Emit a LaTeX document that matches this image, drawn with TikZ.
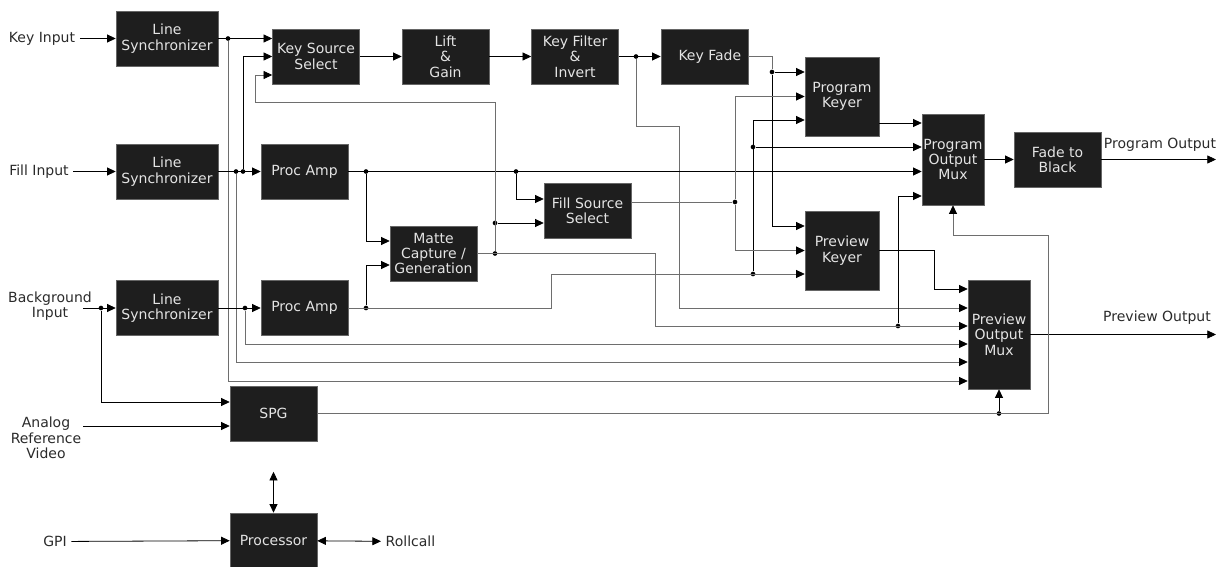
\documentclass[tikz,border=0pt]{standalone}
\usepackage{fontspec}
\setmainfont{DejaVu Sans}
\usepackage{xcolor}
\usepackage{tikz}
\usetikzlibrary{arrows.meta, positioning}
\definecolor{blockfill}{HTML}{1E1E1E}
\definecolor{blocktext}{HTML}{E4E4E4}
\definecolor{bus}{HTML}{6E6E6E}
\definecolor{labeltext}{HTML}{2A2A2A}

\begin{document}
\begin{tikzpicture}[
  x=0.75pt, y=-0.75pt,
  block/.style={draw=black!60, fill=blockfill, text=blocktext, inner sep=1pt,
                minimum width=65.25pt, minimum height=41.25pt,
                font=\fontsize{10.5}{11.5}\selectfont, align=center},
  sync/.style={block, minimum width=76.5pt},
  keyer/.style={block, minimum width=55.5pt, minimum height=59.25pt},
  mux/.style={block, minimum width=46.5pt},
  iolabel/.style={text=labeltext, font=\fontsize{10.5}{11.5}\selectfont, align=center},
  dot/.style={circle, fill=black, inner sep=0pt, minimum size=3.5pt},
  arrow/.style={-{Triangle[length=6.5pt, width=6pt]}, line width=0.6pt},
  busarrow/.style={arrow, draw=bus, -{Triangle[length=6.5pt, width=6pt, color=black]}},
  bus/.style={draw=bus, line width=0.6pt},
  twoway/.style={{Triangle[length=6.5pt, width=6pt]}-{Triangle[length=6.5pt, width=6pt]}, line width=0.6pt}
]
  \useasboundingbox (0,0) rectangle (1221,567);

  \node[sync] (ls1) at (167,38.5) {Line\\Synchronizer};
  \node[sync] (ls2) at (167,171.5) {Line\\Synchronizer};
  \node[sync] (ls3) at (167,308) {Line\\Synchronizer};
  \node[block] (kss) at (316,56.5) {Key Source\\Select};
  \node[block] (lg) at (445.5,56.5) {Lift\\\&\\Gain};
  \node[block] (kfi) at (575,56.5) {Key Filter\\\&\\Invert};
  \node[block] (kf) at (704.5,56.5) {\hspace{8pt}Key Fade};
  \node[block] (pa1) at (304.5,171.5) {Proc Amp};
  \node[block] (pa2) at (304.5,308) {Proc Amp};
  \node[block] (fss) at (587.5,211) {Fill Source\\Select};
  \node[block] (mcg) at (433.5,253.5) {Matte\\Capture /\\Generation};
  \node[keyer] (pk) at (842,96.5) {Program\\Keyer};
  \node[keyer] (pvk) at (842,250.5) {Preview\\Keyer};
  \node[mux, minimum height=68.25pt] (pom) at (953,159.5) {Program\\Output\\Mux};
  \node[mux, minimum height=81.75pt] (pvm) at (999,334.5) {Preview\\Output\\Mux};
  \node[block] (ftb) at (1057.5,159.5) {Fade to\\Black};
  \node[block] (spg) at (273.5,413.5) {SPG};
  \node[block] (proc) at (273.5,540.5) {Processor};

  \node[iolabel] (kin) at (42,38.5) {Key Input};
  \node[iolabel] (fin) at (39,171.5) {Fill Input};
  \node[iolabel] (bgin) at (50,306) {Background\\Input};
  \node[iolabel] (refin) at (46,438) {Analog\\Reference\\Video};
  \node[iolabel] (gpi) at (55,541.5) {GPI};
  \node[iolabel, anchor=west] (roll) at (381,541.5) {Rollcall};
  \node[iolabel] (pgmlbl) at (1160,145) {Program Output};
  \node[iolabel] (pvwlbl) at (1157,318) {Preview Output};
  \coordinate (bg_in) at (83,308);
  \coordinate (ref_in) at (83,426);
  \coordinate (pgm_out) at (1216,159.5);
  \coordinate (pvw_out) at (1216,334.5);

  \node[dot] (sbi) at (101,308) {};
  \node[dot] (sk) at (228,38.5) {};
  \node[dot] (sf1) at (236,171.5) {};
  \node[dot] (sf2) at (243,171.5) {};
  \node[dot] (sb) at (245,308) {};
  \node[dot] (pf1) at (366,171.5) {};
  \node[dot] (pf2) at (516,171.5) {};
  \node[dot] (pb) at (366,308) {};
  \node[dot] (mo) at (495,253.5) {};
  \node[dot] (mf) at (495,223) {};
  \node[dot] (kfo) at (636,56.5) {};
  \node[dot] (kfd) at (772,72) {};
  \node[dot] (fso) at (735,202) {};
  \node[dot] (pbk) at (753,274) {};
  \node[dot] (pbm) at (753,147) {};
  \node[dot] (mom) at (898,326) {};
  \node[dot] (spgv) at (999,413.5) {};

  \draw[arrow] (kin) -- (ls1);
  \draw[arrow] (fin) -- (ls2);
  \draw[arrow] (bg_in) -- (ls3);
  \draw[arrow] (sbi) |- (spg.west |- 0,402);
  \draw[arrow] (ref_in) -- (spg.west |- ref_in);
  \draw[arrow] (gpi) -- (proc);
  \draw[twoway] (proc) -- (roll);
  \draw[twoway] (proc.north) -- ++(0,-41);

  \draw[arrow] (ls1) -- (kss.west |- ls1);
  \draw[busarrow] (sk) |- (pvm.west |- 0,381);
  \draw[arrow] (kss) -- (lg);
  \draw[arrow] (lg) -- (kfi);
  \draw[arrow] (kfi) -- (kf);
  \draw[busarrow] (kfo) |- (679,126) |- (pvm.west |- 0,308);
  \draw[bus] (kf) -| (kfd);
  \draw[arrow] (kfd) -- (pk.west |- kfd);
  \draw[arrow] (kfd) |- (pvk.west |- 0,226);

  \draw[arrow] (ls2) -- (pa1);
  \draw[arrow] (sf2) |- (kss);
  \draw[busarrow] (sf1) |- (pvm.west |- 0,362);
  \draw[arrow] (ls3) -- (pa2);
  \draw[busarrow] (sb) |- (pvm.west |- 0,344);

  \draw[arrow] (pa1) -- (pom.west |- pa1);
  \draw[arrow] (pf1) |- (mcg.west |- 0,241);
  \draw[arrow] (pf2) |- (fss.west |- 0,199);
  \draw[busarrow] (pa2) -| (551,274) -- (pvk.west |- 0,274);
  \draw[arrow] (pb) |- (mcg.west |- 0,265);
  \draw[arrow] (pbk) |- (pk.west |- 0,120);
  \draw[arrow] (pbm) -- (pom.west |- pbm);

  \draw[busarrow] (mcg) -| (655,326) -- (pvm.west |- 0,326);
  \draw[arrow] (mom) |- (pom.west |- 0,196);
  \draw[arrow] (mf) -- (fss.west |- mf);
  \draw[busarrow] (mo) |- (255,102) |- (kss.west |- 0,75);

  \draw[bus] (fss.east |- fso) -- (fso);
  \draw[busarrow] (fso) |- (pk);
  \draw[busarrow] (fso) |- (pvk);
  \draw[arrow] (pk.east |- 0,123) -- (pom.west |- 0,123);
  \draw[arrow] (pvk) -| (934,289) -- (pvm.west |- 0,289);
  \draw[arrow] (pom) -- (ftb);
  \draw[arrow] (ftb) -- (pgm_out);
  \draw[arrow] (pvm) -- (pvw_out);
  \draw[busarrow] (spg) -| (1048,235) -| (pom);
  \draw[arrow] (spgv) -- (pvm);
\end{tikzpicture}
\end{document}
